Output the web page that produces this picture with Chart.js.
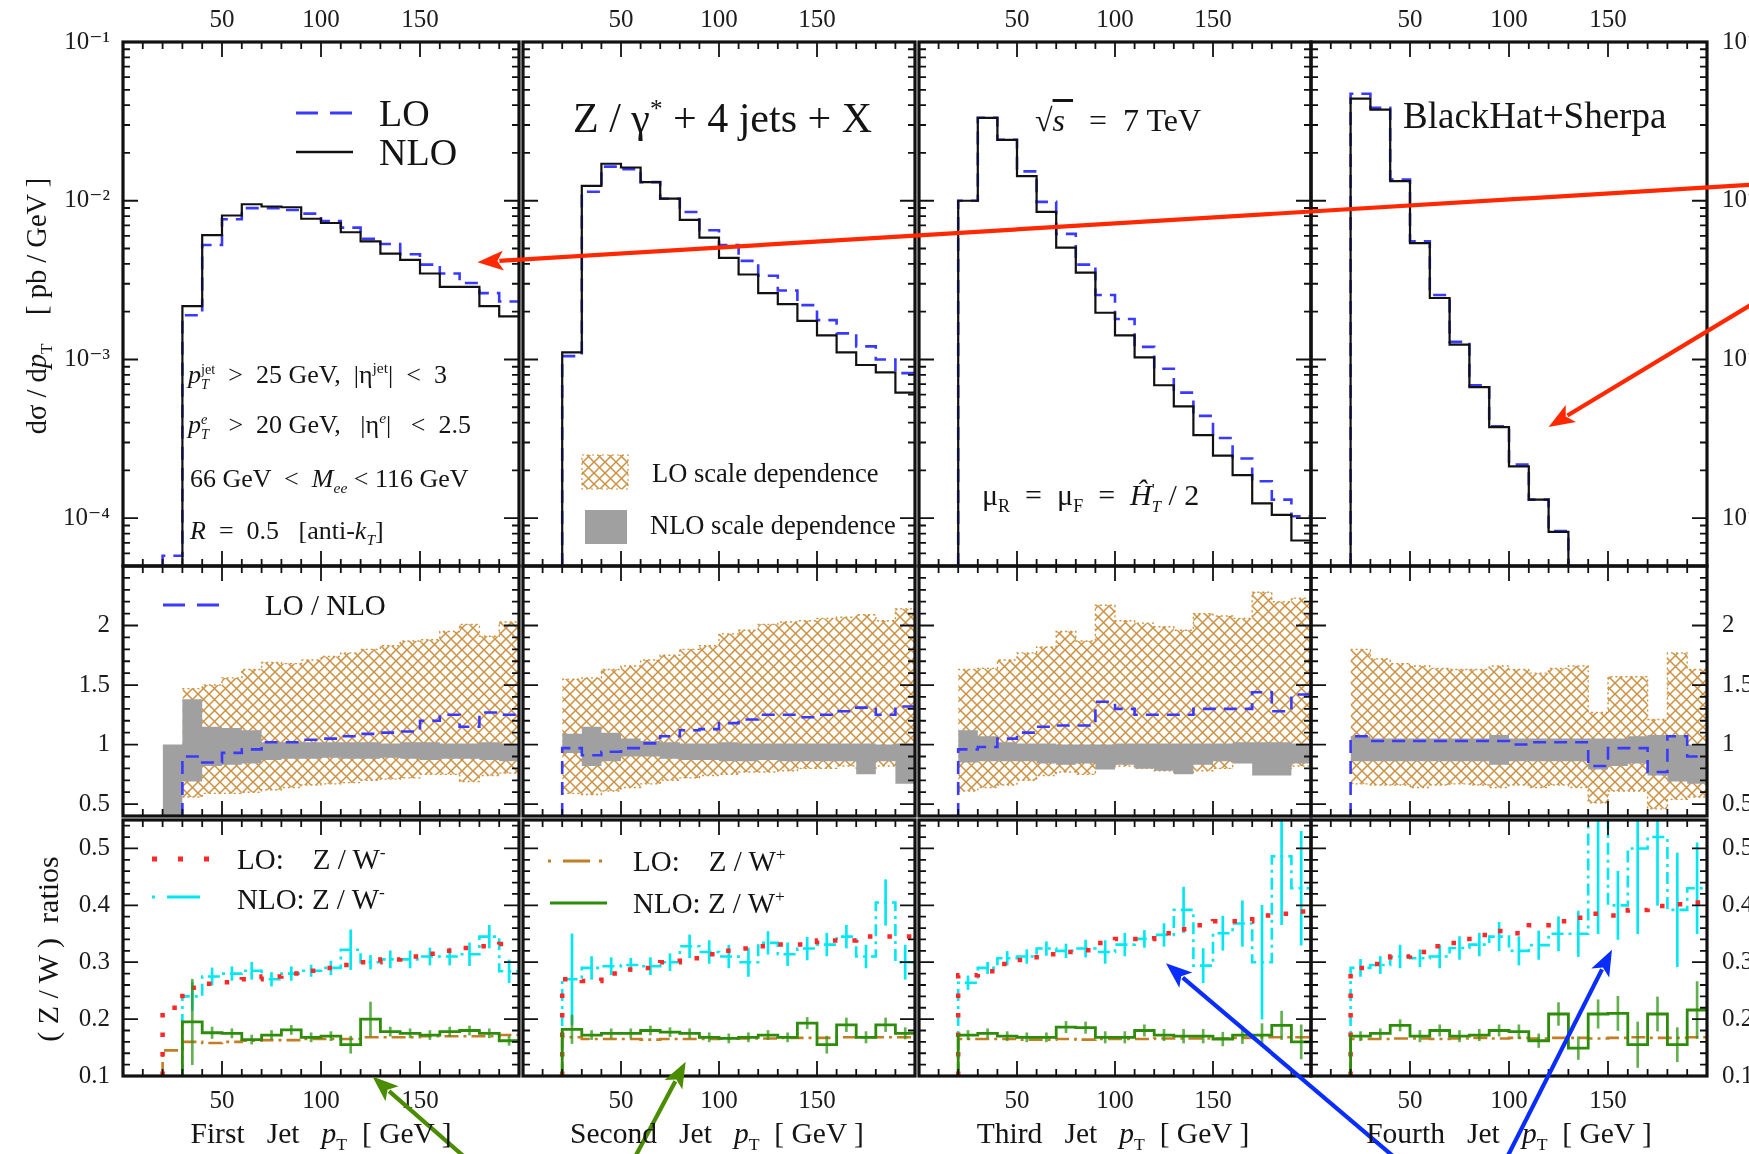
<!DOCTYPE html>
<html><head><meta charset="utf-8">
<script src="https://cdn.jsdelivr.net/npm/chart.js@4.4.1/dist/chart.umd.min.js"></script>
<style>
html,body{margin:0;padding:0;background:#fff}
body{width:1749px;height:1154px;overflow:hidden;position:relative;font-family:'Liberation Serif','DejaVu Serif','Times New Roman',serif;color:#141414}
#host canvas{position:absolute}
#ov{position:absolute;left:0;top:0;pointer-events:none}
.t{position:absolute;white-space:pre;transform:translateY(-50%);line-height:1}
.c{position:absolute;white-space:pre;transform:translate(-50%,-50%);line-height:1}
.rot{position:absolute;white-space:pre;transform:translate(-50%,-50%) rotate(-90deg);line-height:1}
sup,sub{font-size:0.6em;line-height:0}
.st{display:inline-flex;flex-direction:column;font-size:0.55em;line-height:1.05;vertical-align:middle;text-align:left}
</style></head>
<body>
<div id="host"></div>
<svg id="ov" width="1749" height="1154" xmlns="http://www.w3.org/2000/svg">
<defs><pattern id="hx" width="11" height="11" patternUnits="userSpaceOnUse"><path d="M-1,-1L12,12M12,-1L-1,12" stroke="rgb(205,145,65)" stroke-width="1.5"/></pattern></defs>
<line x1="296" y1="113" x2="352" y2="113" stroke="#3a3aff" stroke-width="3" stroke-dasharray="22 12"/>
<line x1="296" y1="152" x2="353" y2="152" stroke="#111" stroke-width="2.5"/>
<rect x="582" y="455" width="46" height="34" fill="url(#hx)" stroke="rgb(205,145,65)" stroke-width="1.2" stroke-dasharray="2 3"/>
<rect x="585" y="510" width="42" height="34" fill="rgb(160,160,160)"/>
<line x1="163" y1="605" x2="221" y2="605" stroke="#3a3aff" stroke-width="3" stroke-dasharray="22 12"/>
<line x1="152" y1="859" x2="210" y2="859" stroke="rgb(255,40,40)" stroke-width="5" stroke-dasharray="5 21"/>
<line x1="152" y1="897" x2="200" y2="897" stroke="rgb(0,232,242)" stroke-width="3" stroke-dasharray="3 12 33 100"/>
<line x1="548" y1="861" x2="606" y2="861" stroke="rgb(195,125,35)" stroke-width="3" stroke-dasharray="3 12 27 9 3 100"/>
<line x1="550" y1="903" x2="607" y2="903" stroke="rgb(45,140,10)" stroke-width="3.2"/>
</svg>

<div class="t" style="left:379px;top:113px;font-size:38px">LO</div>
<div class="t" style="left:379px;top:152px;font-size:38px">NLO</div>
<div class="t" style="left:188px;top:377px;font-size:26px"><i>p</i><span class="st"><span>jet</span><span><i>T</i></span></span>  &gt;  25 GeV,  |η<sup>jet</sup>|  &lt;  3</div>
<div class="t" style="left:188px;top:427px;font-size:26px"><i>p</i><span class="st"><span><i>e</i></span><span><i>T</i></span></span>   &gt;  20 GeV,   |η<sup><i>e</i></sup>|   &lt;  2.5</div>
<div class="t" style="left:190px;top:479px;font-size:26px">66 GeV  &lt;  <i>M</i><sub><i>ee</i></sub> &lt; 116 GeV</div>
<div class="t" style="left:190px;top:531px;font-size:26px"><i>R</i>  =  0.5   [anti-<i>k</i><sub><i>T</i></sub>]</div>
<div class="t" style="left:573px;top:118px;font-size:42px">Z / γ<sup>*</sup> + 4 jets + X</div>
<div class="t" style="left:652px;top:473px;font-size:26.5px">LO scale dependence</div>
<div class="t" style="left:650px;top:525px;font-size:26.5px">NLO scale dependence</div>
<div class="t" style="left:1035px;top:120px;font-size:32px">√<span style="text-decoration:overline"><i>s</i> </span>  =  7 TeV</div>
<div class="t" style="left:982px;top:498px;font-size:30px">μ<sub>R</sub>  =  μ<sub>F</sub>  =  <i>Ĥ</i><span class="st"><span>'</span><span><i>T</i></span></span> / 2</div>
<div class="t" style="left:1403px;top:115px;font-size:37px">BlackHat+Sherpa</div>
<div class="t" style="left:265px;top:605px;font-size:29px">LO / NLO</div>
<div class="t" style="left:237px;top:859px;font-size:29px">LO:    Z / W<sup>-</sup></div>
<div class="t" style="left:237px;top:899px;font-size:29px">NLO: Z / W<sup>-</sup></div>
<div class="t" style="left:633px;top:861px;font-size:29px">LO:    Z / W<sup>+</sup></div>
<div class="t" style="left:633px;top:903px;font-size:29px">NLO: Z / W<sup>+</sup></div>
<div class="rot" style="left:37px;top:306px;font-size:28.5px">dσ / d<i>p</i><sub>T</sub>    [ pb / GeV ]</div>
<div class="rot" style="left:48px;top:949px;font-size:30px">( Z / W )  ratios</div>
<div class="c" style="left:321px;top:1134px;font-size:29.5px">First   Jet   <i>p</i><sub>T</sub>  [ GeV ]</div>
<div class="c" style="left:717px;top:1134px;font-size:29.5px">Second   Jet   <i>p</i><sub>T</sub>  [ GeV ]</div>
<div class="c" style="left:1113px;top:1134px;font-size:29.5px">Third   Jet   <i>p</i><sub>T</sub>  [ GeV ]</div>
<div class="c" style="left:1509px;top:1134px;font-size:29.5px">Fourth   Jet   <i>p</i><sub>T</sub>  [ GeV ]</div>

<script>
// ---------------- data ----------------
const binEdges = [20,30,40,50,60,70,80,90,100,110,120,130,140,150,160,170,180,190,200];
const xRange = [0, 200];
const yRanges = [[5e-5, 0.1], [0.4, 2.5], [0.1, 0.55]];
const xTickLabels = [50, 100, 150];
const yTickLabels = [[1e-4, 1e-3, 1e-2, 1e-1], [0.5, 1, 1.5, 2], [0.1, 0.2, 0.3, 0.4, 0.5]];

// top row: d sigma / d pT  [pb/GeV]
const loTop1  = [5.8e-5,1.9e-3,5.26e-3,7.65e-3,8.98e-3,8.98e-3,8.75e-3,8.3e-3,7.45e-3,6.77e-3,5.75e-3,5.34e-3,4.6e-3,3.96e-3,3.48e-3,3.03e-3,2.62e-3,2.32e-3];
const nloTop1 = [3.0e-5,2.17e-3,6.08e-3,8.07e-3,9.5e-3,9.2e-3,9.1e-3,7.7e-3,7.24e-3,6.33e-3,5.54e-3,4.65e-3,4.24e-3,3.48e-3,2.87e-3,2.87e-3,2.17e-3,1.87e-3];
const loTop2  = [1.05e-3,1.14e-2,1.64e-2,1.58e-2,1.31e-2,1.03e-2,8.5e-3,6.52e-3,5.26e-3,4.18e-3,3.37e-3,2.72e-3,2.2e-3,1.77e-3,1.46e-3,1.21e-3,1.0e-3,8.2e-4];
const nloTop2 = [1.11e-3,1.24e-2,1.71e-2,1.62e-2,1.31e-2,1.03e-2,7.57e-3,5.85e-3,4.36e-3,3.43e-3,2.62e-3,2.23e-3,1.75e-3,1.42e-3,1.11e-3,9.23e-4,8.3e-4,6.18e-4];
const loTop3  = [1.0e-2,3.33e-2,2.42e-2,1.53e-2,9.84e-3,6.18e-3,3.96e-3,2.55e-3,1.8e-3,1.2e-3,8.75e-4,6.18e-4,4.41e-4,3.2e-4,2.38e-4,1.71e-4,1.31e-4,1.03e-4];
const nloTop3 = [1.0e-2,3.33e-2,2.42e-2,1.43e-2,8.5e-3,5.07e-3,3.52e-3,1.97e-3,1.42e-3,1.03e-3,6.88e-4,5.07e-4,3.34e-4,2.48e-4,1.87e-4,1.24e-4,1.05e-4,7.24e-5];
const loTop4  = [4.72e-2,3.85e-2,1.36e-2,5.55e-3,2.55e-3,1.29e-3,6.88e-4,3.8e-4,2.18e-4,1.31e-4,8.3e-5];
const nloTop4 = [4.4e-2,3.75e-2,1.33e-2,5.4e-3,2.44e-3,1.24e-3,6.7e-4,3.75e-4,2.12e-4,1.31e-4,8.2e-5];

// middle row: ratios and scale bands
const loBandUp1 = [null,1.47,1.5,1.56,1.63,1.69,1.68,1.71,1.74,1.77,1.8,1.83,1.87,1.88,1.95,2.01,1.91,2.03];
const loBandLo1 = [null,0.56,0.59,0.59,0.6,0.62,0.64,0.66,0.67,0.68,0.7,0.71,0.72,0.75,0.75,0.69,0.74,0.76];
const nloBandUp1 = [1.0,1.38,1.15,1.14,1.12,1.02,1.02,1.02,1.02,1.02,1.02,1.01,1.02,1.02,1.01,1.01,1.02,1.01];
const nloBandLo1 = [0.3,0.69,0.82,0.83,0.84,0.87,0.88,0.88,0.89,0.88,0.88,0.89,0.88,0.87,0.88,0.88,0.87,0.86];
const ratio1 = [null,0.9,0.85,0.93,0.96,1.02,1.02,1.04,1.05,1.07,1.09,1.1,1.11,1.2,1.25,1.15,1.27,1.25];

const loBandUp2 = [1.55,1.56,1.63,1.66,1.71,1.75,1.8,1.83,1.93,1.96,2.01,2.03,2.04,2.06,2.07,2.09,2.04,2.14];
const loBandLo2 = [0.59,0.58,0.61,0.64,0.67,0.7,0.72,0.74,0.75,0.77,0.77,0.78,0.8,0.8,0.82,0.8,0.82,0.82];
const nloBandUp2 = [1.09,1.15,1.1,1.05,1.03,1.02,1.01,1.01,1.02,1.01,1.01,1.01,1.01,1.01,1.01,1.01,1.0,1.01];
const nloBandLo2 = [0.93,0.82,0.86,0.9,0.9,0.88,0.87,0.87,0.86,0.86,0.87,0.86,0.86,0.86,0.86,0.75,0.86,0.67];
const ratio2 = [0.97,0.91,0.94,0.97,1.01,1.07,1.12,1.13,1.18,1.21,1.25,1.25,1.23,1.25,1.28,1.31,1.25,1.32];

const loBandUp3 = [1.63,1.64,1.71,1.77,1.82,1.95,1.87,2.17,2.04,2.02,1.99,1.96,2.1,2.08,2.06,2.28,2.2,2.23];
const loBandLo3 = [0.61,0.64,0.66,0.7,0.74,0.77,0.75,0.8,0.82,0.8,0.78,0.77,0.78,0.8,0.88,0.85,0.8,0.82];
const nloBandUp3 = [1.12,1.07,1.02,1.01,1.01,1.0,1.0,1.0,1.01,1.01,1.01,1.01,1.01,1.01,1.02,1.02,1.02,1.01];
const nloBandLo3 = [0.85,0.86,0.86,0.86,0.84,0.83,0.84,0.79,0.83,0.8,0.78,0.75,0.83,0.86,0.84,0.74,0.74,0.84];
const ratio3 = [0.96,0.98,1.05,1.1,1.15,1.16,1.16,1.36,1.3,1.25,1.25,1.25,1.3,1.3,1.3,1.44,1.28,1.42];

const loBandUp4 = [1.8,1.72,1.68,1.66,1.64,1.63,1.63,1.66,1.63,1.6,1.64,1.66,1.27,1.57,1.57,1.21,1.77,1.63];
const loBandLo4 = [0.67,0.66,0.66,0.64,0.66,0.67,0.66,0.64,0.66,0.64,0.66,0.64,0.51,0.61,0.61,0.46,0.54,0.56];
const nloBandUp4 = [1.07,1.05,1.05,1.05,1.05,1.05,1.05,1.08,1.05,1.05,1.05,1.05,1.05,1.05,1.07,1.08,1.08,1.0];
const nloBandLo4 = [0.86,0.86,0.86,0.86,0.86,0.86,0.86,0.83,0.86,0.86,0.86,0.86,0.79,0.82,0.84,0.74,0.69,0.67];
const ratio4 = [1.07,1.03,1.03,1.03,1.03,1.03,1.03,1.03,1.0,1.02,1.02,1.02,0.82,0.97,0.97,0.77,1.07,0.9];

// bottom row: Z/W ratios
const loZWm1 = [0.22,0.255,0.262,0.265,0.27,0.275,0.28,0.285,0.29,0.295,0.3,0.305,0.31,0.315,0.32,0.325,0.328,0.332];
const nloZWm1 = [null,0.24,0.275,0.28,0.285,0.27,0.28,0.285,0.29,0.322,0.3,0.305,0.305,0.31,0.31,0.314,0.345,0.284];
const nloZWmErr1 = [null,0.025,0.015,0.012,0.015,0.012,0.012,0.01,0.012,0.035,0.012,0.015,0.015,0.015,0.015,0.02,0.02,0.02];
const loZWp1 = [0.145,0.16,0.158,0.16,0.162,0.163,0.163,0.165,0.165,0.165,0.168,0.168,0.168,0.17,0.17,0.17,0.17,0.172];
const nloZWp1 = [null,0.195,0.176,0.175,0.164,0.172,0.181,0.168,0.17,0.155,0.2,0.178,0.175,0.172,0.178,0.18,0.175,0.162];
const nloZWpErr1 = [null,0.075,0.01,0.008,0.008,0.008,0.008,0.008,0.008,0.015,0.03,0.008,0.008,0.008,0.008,0.008,0.008,0.008];

const loZWm2 = [0.27,0.267,0.28,0.287,0.29,0.3,0.307,0.314,0.32,0.324,0.328,0.331,0.331,0.338,0.338,0.345,0.345,0.345];
const nloZWm2 = [0.27,0.29,0.293,0.295,0.293,0.3,0.328,0.318,0.31,0.3,0.334,0.314,0.324,0.331,0.345,0.31,0.405,0.3];
const nloZWmErr2 = [0.08,0.02,0.015,0.012,0.015,0.015,0.02,0.02,0.02,0.025,0.02,0.02,0.02,0.02,0.02,0.02,0.04,0.03];
const loZWp2 = [0.168,0.165,0.165,0.165,0.164,0.165,0.165,0.165,0.166,0.166,0.166,0.167,0.167,0.167,0.168,0.168,0.168,0.168];
const nloZWp2 = [0.182,0.172,0.175,0.175,0.18,0.177,0.175,0.168,0.166,0.168,0.172,0.168,0.193,0.155,0.19,0.168,0.19,0.175];
const nloZWpErr2 = [0.025,0.008,0.008,0.008,0.008,0.008,0.008,0.008,0.008,0.008,0.008,0.008,0.01,0.015,0.012,0.01,0.012,0.01];

const loZWm3 = [0.277,0.284,0.297,0.304,0.314,0.318,0.321,0.334,0.341,0.341,0.351,0.358,0.365,0.372,0.372,0.382,0.385,0.389];
const nloZWm3 = [0.264,0.29,0.307,0.31,0.324,0.32,0.324,0.318,0.331,0.341,0.348,0.392,0.294,0.351,0.368,0.3,0.486,0.43];
const nloZWmErr3 = [0.012,0.01,0.012,0.012,0.012,0.012,0.015,0.02,0.02,0.015,0.02,0.04,0.03,0.03,0.04,0.1,0.12,0.1];
const loZWp3 = [0.165,0.165,0.165,0.164,0.164,0.165,0.164,0.165,0.165,0.165,0.166,0.166,0.166,0.166,0.167,0.168,0.168,0.168];
const nloZWp3 = [0.172,0.175,0.17,0.168,0.168,0.186,0.185,0.168,0.168,0.18,0.172,0.17,0.17,0.165,0.172,0.172,0.189,0.16];
const nloZWpErr3 = [0.008,0.008,0.008,0.008,0.008,0.01,0.01,0.01,0.01,0.01,0.01,0.012,0.012,0.012,0.015,0.02,0.025,0.03];

const loZWm4 = [0.29,0.297,0.31,0.318,0.328,0.334,0.348,0.355,0.351,0.365,0.372,0.378,0.385,0.382,0.392,0.399,0.402,0.405];
const nloZWm4 = [0.29,0.295,0.31,0.307,0.31,0.325,0.331,0.345,0.32,0.33,0.35,0.35,0.6,0.4,0.5,0.52,0.392,0.43];
const nloZWmErr4 = [0.015,0.015,0.02,0.015,0.02,0.02,0.02,0.025,0.025,0.025,0.03,0.04,0.25,0.06,0.15,0.12,0.1,0.08];
const loZWp4 = [0.165,0.165,0.166,0.166,0.165,0.166,0.167,0.166,0.167,0.166,0.167,0.167,0.166,0.167,0.168,0.167,0.167,0.168];
const nloZWp4 = [0.17,0.175,0.189,0.17,0.18,0.17,0.172,0.18,0.178,0.162,0.209,0.149,0.209,0.21,0.155,0.209,0.155,0.216];
const nloZWpErr4 = [0.008,0.008,0.01,0.01,0.01,0.01,0.01,0.01,0.012,0.012,0.02,0.02,0.025,0.03,0.04,0.03,0.03,0.05];

// annotation arrows (tip / tail given in the data coordinates of a panel)
const arrows = [
  {color:'rgb(255,40,0)', tip:{row:0,col:0,x:179,y:4.1e-3}, tail:{row:0,col:3,x:222,y:1.26e-2}},
  {color:'rgb(255,40,0)', tip:{row:0,col:3,x:120,y:3.76e-4}, tail:{row:0,col:3,x:222,y:2.2e-3}},
  {color:'rgb(75,140,0)', tip:{row:2,col:0,x:126,y:0.099}, tail:{row:2,col:0,x:175,y:-0.05}},
  {color:'rgb(75,140,0)', tip:{row:2,col:1,x:83,y:0.125}, tail:{row:2,col:1,x:56,y:-0.05}},
  {color:'rgb(10,45,255)', tip:{row:2,col:2,x:126,y:0.298}, tail:{row:2,col:2,x:245,y:-0.05}},
  {color:'rgb(10,45,255)', tip:{row:2,col:3,x:152,y:0.322}, tail:{row:2,col:3,x:98,y:-0.05}},
];

const loTop = [loTop1, loTop2, loTop3, loTop4];
const nloTop = [nloTop1, nloTop2, nloTop3, nloTop4];
const loBandUp = [loBandUp1, loBandUp2, loBandUp3, loBandUp4];
const loBandLo = [loBandLo1, loBandLo2, loBandLo3, loBandLo4];
const nloBandUp = [nloBandUp1, nloBandUp2, nloBandUp3, nloBandUp4];
const nloBandLo = [nloBandLo1, nloBandLo2, nloBandLo3, nloBandLo4];
const ratio = [ratio1, ratio2, ratio3, ratio4];
const loZWm = [loZWm1, loZWm2, loZWm3, loZWm4];
const nloZWm = [nloZWm1, nloZWm2, nloZWm3, nloZWm4];
const nloZWmErr = [nloZWmErr1, nloZWmErr2, nloZWmErr3, nloZWmErr4];
const loZWp = [loZWp1, loZWp2, loZWp3, loZWp4];
const nloZWp = [nloZWp1, nloZWp2, nloZWp3, nloZWp4];
const nloZWpErr = [nloZWpErr1, nloZWpErr2, nloZWpErr3, nloZWpErr4];

// ---------------- layout & style ----------------
const FONT = "'Liberation Serif','DejaVu Serif','Times New Roman',serif";
const PAGE_W = 1749, PAGE_H = 1154;
const PLOT_LEFT = 123, PANEL_W = 396;
const ROW_TOP = [42, 566, 820], ROW_H = [524, 254, 256];
const BLUE = '#3a3aff', RED = 'rgb(255,40,40)', CYAN = 'rgb(0,232,242)', BROWN = 'rgb(195,125,35)',
      GREEN = 'rgb(45,140,10)', GREEN_ERR = 'rgba(45,150,20,0.75)', GRAY = 'rgb(160,160,160)', HATCH_C = 'rgb(205,145,65)';

function makeHatch() {
  const c = document.createElement('canvas'); c.width = c.height = 11;
  const g = c.getContext('2d');
  g.strokeStyle = HATCH_C; g.lineWidth = 1.5;
  g.beginPath(); g.moveTo(-1,-1); g.lineTo(12,12); g.moveTo(12,-1); g.lineTo(-1,12); g.stroke();
  return g.createPattern(c, 'repeat');
}
const HATCH = makeHatch();

// histogram as stepped points built from bin edges and values
function steps(vals, floor) {
  const idx = vals.map((v,i) => v == null ? -1 : i).filter(i => i >= 0);
  const first = idx[0], last = idx[idx.length-1];
  const pts = [];
  if (floor != null) pts.push({x: binEdges[first], y: floor});
  for (let i = first; i <= last; i++) pts.push({x: binEdges[i], y: vals[i]});
  pts.push({x: binEdges[last+1], y: vals[last]});
  if (floor != null && binEdges[last+1] < xRange[1]) pts.push({x: binEdges[last+1], y: floor});
  return pts;
}
function errBars(vals, errs) {
  const out = [];
  vals.forEach((v,i) => { if (v != null && errs[i] != null) out.push({x:(binEdges[i]+binEdges[i+1])/2, y:[v-errs[i], v+errs[i]]}); });
  return out;
}
const L = (o) => Object.assign({type:'line', stepped:'before', pointRadius:0, borderCapStyle:'butt', fill:false}, o);
const B = (o) => Object.assign({type:'bar', barThickness:2, grouped:false, borderWidth:0}, o);
const NONE = 'rgba(0,0,0,0)';

function topSets(c) {
  return [
    L({data: steps(nloTop[c], yRanges[0][0]), borderColor:'#111', borderWidth:2.2, order:1}),
    L({data: steps(loTop[c], yRanges[0][0]), borderColor:BLUE, borderWidth:2.6, borderDash:[13,8], order:2}),
  ];
}
function midSets(c) {
  return [
    L({data: steps(ratio[c], yRanges[1][0]), borderColor:BLUE, borderWidth:2.6, borderDash:[13,8], order:1}),
    L({data: steps(nloBandUp[c]), fill:'+1', backgroundColor:GRAY, borderColor:NONE, borderWidth:0.01, order:2}),
    L({data: steps(nloBandLo[c]), borderColor:NONE, borderWidth:0.01, order:3}),
    L({data: steps(loBandUp[c]), fill:'+1', backgroundColor:HATCH, borderColor:HATCH_C, borderWidth:1.4, borderDash:[2,3], order:4}),
    L({data: steps(loBandLo[c]), borderColor:HATCH_C, borderWidth:1.4, borderDash:[2,3], order:5}),
  ];
}
function botSets(c) {
  const f = yRanges[2][0];
  return [
    L({data: steps(nloZWp[c], f), borderColor:GREEN, borderWidth:2.8, order:1}),
    B({data: errBars(nloZWp[c], nloZWpErr[c]), backgroundColor:GREEN_ERR, order:2}),
    L({data: steps(loZWm[c], f), borderColor:RED, borderWidth:4.5, borderDash:[4.5,15], order:3}),
    L({data: steps(loZWp[c], f), borderColor:BROWN, borderWidth:2.6, borderDash:[14,5,3,5], order:4}),
    L({data: steps(nloZWm[c], f), borderColor:CYAN, borderWidth:2.6, borderDash:[12,5,3,5], order:5}),
    B({data: errBars(nloZWm[c], nloZWmErr[c]), backgroundColor:CYAN, order:6}),
  ];
}

const SUP = {'-':'\u207B','0':'\u2070','1':'\u00B9','2':'\u00B2','3':'\u00B3','4':'\u2074','5':'\u2075'};
function decadeLabel(v) {
  const n = Math.round(Math.log10(v));
  return '10' + String(n).split('').map(ch => SUP[ch]).join('');
}
const linLabel = (v) => String(+v.toFixed(2));

function yTickList(row) {
  const out = [];
  if (row === 0) {
    for (let n = -5; n <= -1; n++) for (let k = 1; k <= 9; k++) {
      const v = k * Math.pow(10, n);
      if (v > yRanges[0][0]*1.001 && v < yRanges[0][1]*0.999) out.push([v, k === 1]);
    }
  } else if (row === 1) {
    for (let i = 5; i <= 24; i++) out.push([i/10, i % 5 === 0]);
  } else {
    for (let i = 6; i <= 27; i++) out.push([i/50, i % 5 === 0]);
  }
  return out;
}

const framePlugin = {
  id: 'frame',
  afterDraw(chart, args, opts) {
    const {ctx, chartArea: a, scales: {x, y}} = chart;
    ctx.save();
    ctx.strokeStyle = '#111'; ctx.lineWidth = 1.8;
    ctx.beginPath();
    for (let v = xRange[0] + 10; v < xRange[1]; v += 10) {
      const px = x.getPixelForValue(v), len = v % 50 === 0 ? 15 : 7;
      ctx.moveTo(px, a.top); ctx.lineTo(px, a.top + len);
      ctx.moveTo(px, a.bottom); ctx.lineTo(px, a.bottom - len);
    }
    for (const [v, major] of yTickList(opts.row)) {
      const py = y.getPixelForValue(v), len = major ? 15 : 7;
      ctx.moveTo(a.left, py); ctx.lineTo(a.left + len, py);
      ctx.moveTo(a.right, py); ctx.lineTo(a.right - len, py);
    }
    ctx.stroke();
    ctx.lineWidth = 3.2;
    ctx.strokeRect(a.left, a.top, a.right - a.left, a.bottom - a.top);
    ctx.restore();
  }
};

const host = document.getElementById('host');
const cells = [[],[],[]];
function makeChart(r, c, datasets) {
  const M = 4;
  const hasL = c === 0, hasR = c === 3, hasT = r === 0, hasB = r === 2;
  const areaL = PLOT_LEFT + c*PANEL_W, areaT = ROW_TOP[r];
  const padL = hasL ? areaL : M;
  const padR = hasR ? PAGE_W - (PLOT_LEFT + 4*PANEL_W) : M;
  const padT = hasT ? areaT : M;
  const padB = hasB ? PAGE_H - (areaT + ROW_H[r]) : M;
  const cv = document.createElement('canvas');
  cv.width = PANEL_W + padL + padR; cv.height = ROW_H[r] + padT + padB;
  cv.style.left = (areaL - padL) + 'px'; cv.style.top = (areaT - padT) + 'px';
  cv.style.width = cv.width + 'px'; cv.style.height = cv.height + 'px';
  host.appendChild(cv);
  const tickFont = {family: FONT, size: 25};
  const yScale = {
    type: r === 0 ? 'logarithmic' : 'linear', min: yRanges[r][0], max: yRanges[r][1],
    position: hasR ? 'right' : 'left', display: hasL || hasR,
    grid: {display:false, drawTicks:false}, border: {display:false},
    ticks: {callback: r === 0 ? decadeLabel : linLabel, autoSkip:false, font: tickFont, color:'#1c1c1c', padding: hasL ? 13 : 15},
    afterBuildTicks: (s) => { s.ticks = yTickLabels[r].map(v => ({value: v})); },
    afterFit: (s) => { s.width = hasL ? padL : padR; s.paddingTop = 0; s.paddingBottom = 0; }
  };
  const chart = new Chart(cv, {
    type: 'line',
    data: {datasets},
    options: {
      responsive:false, animation:false, devicePixelRatio:1,
      layout:{padding:{left:hasL?0:M, right:hasR?0:M, top:hasT?0:M, bottom:hasB?0:M}},
      plugins:{legend:{display:false}, tooltip:{enabled:false}, frame:{row:r}},
      elements:{point:{radius:0}, line:{tension:0}},
      scales:{
        x:{type:'linear', min:xRange[0], max:xRange[1], offset:false,
           position: hasT ? 'top' : 'bottom', display: hasT || hasB,
           grid:{display:false, drawTicks:false}, border:{display:false},
           ticks:{autoSkip:false, maxRotation:0, font: tickFont, color:'#1c1c1c',
                  padding: hasT ? 7 : 10, callback: v => String(v)},
           afterBuildTicks: (s) => { s.ticks = xTickLabels.map(v => ({value: v})); },
           afterFit: (s) => { s.height = hasT ? padT : padB; s.paddingLeft = 0; s.paddingRight = 0; }},
        y: yScale
      }
    },
    plugins: [framePlugin]
  });
  cells[r][c] = {chart, left: areaL - padL, top: areaT - padT};
}

for (let c = 0; c < 4; c++) {
  makeChart(0, c, topSets(c));
  makeChart(1, c, midSets(c));
  makeChart(2, c, botSets(c));
}

// arrows through the panel scales
const ov = document.getElementById('ov');
const NS = 'http://www.w3.org/2000/svg';
function pagePt(p) {
  const h = cells[p.row][p.col];
  return [h.left + h.chart.scales.x.getPixelForValue(p.x), h.top + h.chart.scales.y.getPixelForValue(p.y)];
}
arrows.forEach(a => {
  const [tx, ty] = pagePt(a.tip), [sx, sy] = pagePt(a.tail);
  const dx = tx - sx, dy = ty - sy, len = Math.hypot(dx, dy), ux = dx/len, uy = dy/len;
  const hl = 26, hw = 10;
  const bx = tx - ux*hl, by = ty - uy*hl;
  const ln = document.createElementNS(NS, 'line');
  ln.setAttribute('x1', sx); ln.setAttribute('y1', sy); ln.setAttribute('x2', bx + ux*4); ln.setAttribute('y2', by + uy*4);
  ln.setAttribute('stroke', a.color); ln.setAttribute('stroke-width', 4.2);
  ov.appendChild(ln);
  const pg = document.createElementNS(NS, 'polygon');
  pg.setAttribute('points', `${tx},${ty} ${bx - uy*hw},${by + ux*hw} ${bx + ux*6},${by + uy*6} ${bx + uy*hw},${by - ux*hw}`);
  pg.setAttribute('fill', a.color);
  ov.appendChild(pg);
});
</script>
</body></html>
